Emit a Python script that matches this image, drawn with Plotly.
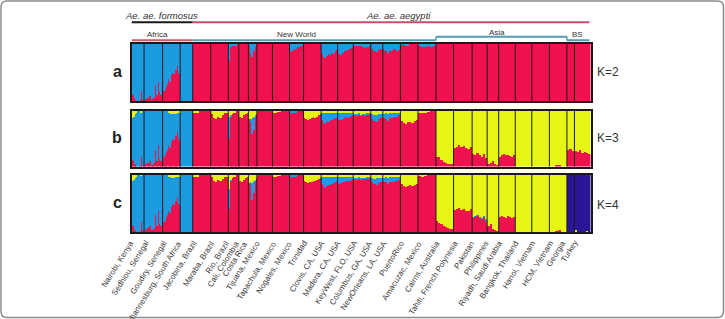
import plotly.graph_objects as go

W, H = 725, 319

names = ["Nairobi, Kenya", "Sedhiou, Senegal", "Goudiry, Senegal", "Johannesburg, South Africa",
         "Jacobina, Brazil", "Maraba, Brazil", "Rio, Brazil", "Cali, Colombia", "Costa Rica",
         "Tijuana, Mexico", "Tapachula, Mexico", "Nogales, Mexico", "Trinidad", "Clovis, CA, USA",
         "Madera, CA, USA", "KeyWest, FLO, USA", "Columbus, GA, USA", "NewOrleans, LA, USA",
         "PuertoRico", "Amacuzac, Mexico", "Cairns, Australia", "Tahiti, French Polynesia",
         "Pakistan", "Philippines", "Riyadh, Saudi Arabia", "Bangkok, Thailand", "Hanoi, Vietnam",
         "HCM, Vietnam", "Georgia", "Turkey"]

sizes = [25, 37, 35, 25, 36, 35, 21, 19, 17, 31, 34, 28, 35, 33, 31, 35, 24, 35, 35, 36,
         35, 37, 30, 23, 33, 33, 35, 35, 15, 32]

# ---- K=2 : blue fraction (rest red)
k2_blue = [
    [0.89, 0.90, 0.95, 0.98, 1, 1, 0.99, 0.83, 0.97, 1],
    [0.58, 0.96, 0.94, 0.55, 0.92, 0.97, 0.90, 0.95, 0.72, 0.90, 0.66, 0.85, 0.90, 0.88],
    [0.82, 0.80, 0.75, 0.70, 0.62, 0.66, 0.55, 0.50, 0.52, 0.40, 0.45, 0.38, 0.50, 0.52],
    [1],
    [0], [0],
    [0.30, 0.05, 0.03, 0.02, 0.04, 0.02, 0, 0],
    [0],
    [0.03, 0.18, 0.22, 0.12, 0.05, 0],
    [0], [0],
    [0.14, 0.12, 0.10, 0.08, 0.06, 0.05, 0.04, 0.03],
    [0],
    [0.18, 0.23, 0.25, 0.21, 0.17, 0.19, 0.15, 0.17, 0.13, 0.10],
    [0.18, 0.19, 0.16, 0.13, 0.12, 0.10, 0.09, 0.07],
    [0.02, 0.03, 0.02, 0.04, 0.05, 0.07, 0.06, 0.04],
    [0.09, 0.12, 0.14, 0.11, 0.09],
    [0.11, 0.13, 0.15, 0.12, 0.11, 0.09, 0.12, 0.10],
    [0.01, 0.02, 0, 0],
    [0.03, 0.05, 0.06, 0.04, 0.05, 0.03],
    [0], [0], [0], [0], [0], [0], [0], [0], [0], [0],
]

# ---- K=3 : blue and yellow fractions (rest red)
k3_blue = [
    [0.77, 0.80, 0.89, 0.96, 1, 1, 0.99, 0.81, 0.97, 1],
    [0.60, 0.95, 0.93, 0.52, 0.90, 0.97, 0.88, 0.94, 0.70, 0.90, 0.62, 0.86, 0.90, 0.87],
    [0.82, 0.80, 0.74, 0.70, 0.60, 0.62, 0.50, 0.45, 0.48, 0.36, 0.40, 0.34, 0.47, 0.50],
    [1],
    [0], [0],
    [0.40, 0.02, 0, 0, 0, 0, 0, 0],
    [0],
    [0, 0.05, 0.30, 0.25, 0.05, 0],
    [0], [0],
    [0.05, 0.04, 0.03, 0.02, 0, 0, 0, 0],
    [0],
    [0.15, 0.20, 0.22, 0.18, 0.17, 0.15, 0.14, 0.12, 0.10, 0.10],
    [0.15, 0.14, 0.12, 0.10, 0.09, 0.10, 0.08, 0.07],
    [0.02],
    [0.08, 0.10, 0.12, 0.09, 0.07],
    [0.08, 0.10, 0.12, 0.10, 0.09, 0.08, 0.07, 0.06],
    [0], [0],
    [0], [0], [0], [0], [0], [0], [0], [0], [0], [0],
]
k3_yellow = [
    [0.12, 0.10, 0.06, 0.02, 0, 0, 0, 0.02, 0, 0],
    [0],
    [0, 0, 0, 0, 0.02, 0.04, 0.05, 0.06, 0.05, 0.04, 0.05, 0.04, 0.03, 0.02],
    [0],
    [0.04, 0.02, 0, 0, 0, 0],
    [0.05, 0.12, 0.14, 0.10, 0.13, 0.08, 0.04, 0.02],
    [0.10, 0.08, 0.06, 0.04, 0.02, 0, 0, 0],
    [0.10, 0.12, 0.08, 0.05, 0.03],
    [0.15, 0.14, 0.12, 0.10, 0.08, 0.05],
    [0],
    [0.02, 0.01, 0, 0],
    [0],
    [0.12, 0.15, 0.16, 0.14, 0.13, 0.10, 0.12, 0.10, 0.08, 0.06],
    [0.02],
    [0.02],
    [0.05, 0.06, 0.04, 0.07, 0.05, 0.06, 0.04, 0.03],
    [0.06, 0.08, 0.07, 0.05, 0.06],
    [0.05, 0.04, 0.06, 0.03, 0.04, 0.02, 0.03, 0.02],
    [0.18, 0.22, 0.24, 0.20, 0.20, 0.22, 0.18, 0.16],
    [0.02, 0.04, 0.02, 0.01, 0, 0],
    [0.83, 0.82, 0.88, 0.92, 0.94, 0.95, 0.96, 0.95],
    [0.66, 0.64, 0.62, 0.65, 0.63, 0.66, 0.68, 0.64],
    [0.78, 0.80, 0.76, 0.80, 0.82, 0.78, 0.84],
    [0.96, 0.94, 0.90, 0.95, 0.97],
    [0.82, 0.79, 0.78, 0.80, 0.79, 0.81, 0.83, 0.80],
    [1], [1],
    [1, 1, 0.97, 0.98, 1, 1],
    [0.70, 0.68, 0.72],
    [0.72, 0.74, 0.70, 0.76, 0.73, 0.75, 0.78],
]

# ---- K=4 : blue, yellow and navy fractions (rest red)
k4_blue = [
    [0.80, 0.82, 0.90, 0.96, 1, 1, 0.99, 0.82, 0.97, 1],
    [0.60, 0.95, 0.93, 0.54, 0.90, 0.97, 0.88, 0.94, 0.70, 0.90, 0.64, 0.86, 0.90, 0.87],
    [0.82, 0.80, 0.74, 0.70, 0.61, 0.62, 0.52, 0.46, 0.48, 0.37, 0.41, 0.35, 0.47, 0.50],
    [1],
    [0], [0],
    [0.35, 0.02, 0, 0, 0, 0, 0, 0],
    [0],
    [0, 0.05, 0.30, 0.22, 0.05, 0],
    [0], [0],
    [0.05, 0.04, 0.03, 0.02, 0, 0, 0, 0],
    [0],
    [0.14, 0.18, 0.20, 0.17, 0.16, 0.15, 0.13, 0.12, 0.10, 0.09],
    [0.13, 0.12, 0.11, 0.10, 0.09, 0.09, 0.08, 0.07],
    [0.02],
    [0.08, 0.09, 0.11, 0.09, 0.07],
    [0.08, 0.09, 0.11, 0.10, 0.09, 0.08, 0.07, 0.06],
    [0], [0],
    [0], [0], [0.01], [0], [0], [0], [0], [0], [0], [0],
]
k4_yellow = [
    [0.10, 0.08, 0.05, 0.02, 0, 0, 0, 0.01, 0, 0],
    [0],
    [0, 0, 0, 0, 0.02, 0.04, 0.04, 0.05, 0.05, 0.04, 0.04, 0.03, 0.03, 0.02],
    [0],
    [0.03, 0.02, 0, 0, 0, 0],
    [0.04, 0.10, 0.12, 0.09, 0.11, 0.07, 0.04, 0.02],
    [0.25, 0.08, 0.06, 0.04, 0.02, 0, 0, 0],
    [0.10, 0.12, 0.08, 0.05, 0.03],
    [0.14, 0.13, 0.14, 0.10, 0.08, 0.05],
    [0],
    [0.02, 0.01, 0, 0],
    [0],
    [0.10, 0.13, 0.14, 0.12, 0.12, 0.10, 0.11, 0.09, 0.07, 0.06],
    [0.02],
    [0.02],
    [0.05, 0.06, 0.04, 0.06, 0.05, 0.05, 0.04, 0.03],
    [0.05, 0.07, 0.06, 0.05, 0.05],
    [0.05, 0.04, 0.05, 0.03, 0.04, 0.02, 0.03, 0.02],
    [0.16, 0.19, 0.21, 0.19, 0.18, 0.20, 0.17, 0.15],
    [0.01, 0.02, 0.01, 0, 0, 0],
    [0.80, 0.84, 0.86, 0.90, 0.92, 0.93, 0.95, 0.94],
    [0.62, 0.60, 0.58, 0.62, 0.60, 0.63, 0.64, 0.60],
    [0.74, 0.72, 0.70, 0.74, 0.76, 0.72, 0.78],
    [0.90, 0.86, 0.94, 0.97, 0.98],
    [0.74, 0.72, 0.73, 0.75, 0.72, 0.74, 0.76, 0.73],
    [1], [1],
    [1, 1, 0.98, 0.97, 1, 1],
    [0],
    [0.03, 0, 0, 0, 0, 0.02, 0],
]
k4_navy = [[0]] * 28 + [
    [1],
    [0.97, 1, 1, 1, 1, 0.98, 1],
]

group_names = ["<i>Ae. ae. formosus</i>", "<i>Ae. ae. aegypti</i>", "Africa", "New World", "Asia", "BS"]

RED, BLUE, YELLOW, NAVY = "#f0114f", "#1b9be0", "#e6f514", "#2b1597"
FONT = "Arial, Liberation Sans, sans-serif"

# panel geometry (pixels from top)
panels = [(44, 101, "a", "K=2"), (111, 166.5, "b", "K=3"), (175, 232, "c", "K=4")]
X0, X1 = 131.5, 590.5


def py(p):
    return 1 - p / H


def px(p):
    return p / W


total = sum(sizes)
starts = [sum(sizes[:i]) for i in range(len(sizes))]


def build(comps):
    """comps: per-population lists for each component; bottom red is the remainder."""
    xs, ws = [], []
    cols = [[] for _ in range(len(comps) + 1)]
    for i, n in enumerate(sizes):
        lists = [c[i] for c in comps]
        m = max(len(l) for l in lists)
        lists = [l * m if len(l) == 1 else l for l in lists]
        w = n / m
        for j in range(m):
            xs.append(starts[i] + (j + 0.5) * w)
            ws.append(w * 1.04)
            vals = [l[j] for l in lists]
            cols[0].append(max(0.0, 1 - sum(vals)))
            for k, v in enumerate(vals):
                cols[k + 1].append(v)
    return xs, ws, cols


fig = go.Figure()
specs = [
    ([k2_blue], [RED, BLUE]),
    ([k3_blue, k3_yellow], [RED, BLUE, YELLOW]),
    ([k4_blue, k4_yellow, k4_navy], [RED, BLUE, YELLOW, NAVY]),
]
for pi, (comps, colors) in enumerate(specs):
    xs, ws, cols = build(comps)
    ax = "" if pi == 0 else str(pi + 1)
    for col, c in zip(cols, colors):
        fig.add_trace(go.Bar(x=xs, y=col, width=ws, marker=dict(color=c, line=dict(width=0)),
                             xaxis="x" + ax, yaxis="y" + ax, showlegend=False, hoverinfo="skip"))

layout = dict(width=W, height=H, margin=dict(l=0, r=0, t=0, b=0), barmode="stack",
              plot_bgcolor="white", paper_bgcolor="white", showlegend=False)
shapes, annotations = [], []
for pi, (top, bot, letter, ktxt) in enumerate(panels):
    ax = "" if pi == 0 else str(pi + 1)
    layout["xaxis" + ax] = dict(domain=[px(X0), px(X1)], range=[0, total], anchor="y" + ax,
                                showticklabels=False, ticks="", showgrid=False, zeroline=False,
                                showline=True, mirror=True, linecolor="#1a1a1a", linewidth=1.5)
    layout["yaxis" + ax] = dict(domain=[py(bot), py(top)], range=[0, 1], anchor="x" + ax,
                                showticklabels=False, ticks="", showgrid=False, zeroline=False,
                                showline=True, mirror=True, linecolor="#1a1a1a", linewidth=1.5)
    for s in starts[1:]:
        shapes.append(dict(type="line", xref="x" + ax, yref="y" + ax + " domain", x0=s, x1=s,
                           y0=0, y1=1, line=dict(color="#1a1a1a", width=1), layer="above"))
    annotations.append(dict(text="<b>" + letter + "</b>", x=px(117), y=py((top + bot) / 2 - 1),
                            xref="paper", yref="paper", xanchor="center", yanchor="middle",
                            showarrow=False, font=dict(family=FONT, size=16, color="#222")))
    annotations.append(dict(text=ktxt, x=px(595), y=py((top + bot) / 2 - 0.5 + (2 if pi == 2 else 0)),
                            xref="paper", yref="paper", xanchor="left", yanchor="middle",
                            showarrow=False, font=dict(family=FONT, size=12, color="#333")))

# population labels
for i, nm in enumerate(names):
    annotations.append(dict(text=nm, x=starts[i] + sizes[i] / 2, y=py(236.5), xref="x3", yref="paper",
                            xanchor="right", yanchor="top", textangle=-58, showarrow=False,
                            font=dict(family=FONT, size=8, color="#383838")))


def xb(i):
    return starts[i] if i < len(starts) else total


# group brackets
grp_lines = [
    (0, 4, 22.3, "#1a1a1a"),
    (4, 30, 22.3, "#c3506c"),
    (0, 4, 40.3, "#c65a6c"),
    (4, 20, 40.3, "#4f9cb4"),
    (20, 28, 36.8, "#4f9cb4"),
    (28, 30, 40.3, "#4f9cb4"),
]
for a, b, yy, c in grp_lines:
    shapes.append(dict(type="line", xref="x3", yref="paper", x0=xb(a), x1=xb(b) - (2 if b == 30 else 0),
                       y0=py(yy), y1=py(yy), line=dict(color=c, width=2)))
for b in (20, 28):
    shapes.append(dict(type="line", xref="x3", yref="paper", x0=xb(b), x1=xb(b), y0=py(36.8), y1=py(40.3),
                       line=dict(color="#4f9cb4", width=1.5)))

# group titles (pixel positions of their centres)
grp_pos = [(161, 15, 9.5), (399, 15, 9.5), (157, 34, 8), (296, 34.5, 8), (497, 32.5, 8), (577, 34.5, 8)]
for t, (gx, gy, fs) in zip(group_names, grp_pos):
    annotations.append(dict(text=t, x=px(gx), y=py(gy), xref="paper", yref="paper",
                            xanchor="center", yanchor="middle", showarrow=False,
                            font=dict(family=FONT, size=fs, color="#333")))

# outer rounded frame
r = 6
fx0, fy0, fx1, fy1 = 1, 1, W - 1.5, H - 1.5
pts = [("M", fx0 + r, fy0), ("L", fx1 - r, fy0), ("Q", fx1, fy0), ("", fx1, fy0 + r), ("L", fx1, fy1 - r),
       ("Q", fx1, fy1), ("", fx1 - r, fy1), ("L", fx0 + r, fy1), ("Q", fx0, fy1), ("", fx0, fy1 - r),
       ("L", fx0, fy0 + r), ("Q", fx0, fy0), ("", fx0 + r, fy0)]
path = " ".join(f"{c} {a / W:.5f},{1 - b / H:.5f}".strip() for c, a, b in pts) + " Z"
shapes.append(dict(type="path", xref="paper", yref="paper", path=path,
                   line=dict(color="#8a8a8a", width=1.5)))

layout["shapes"] = shapes
layout["annotations"] = annotations
fig.update_layout(**layout)
fig.write_html("out.html")
